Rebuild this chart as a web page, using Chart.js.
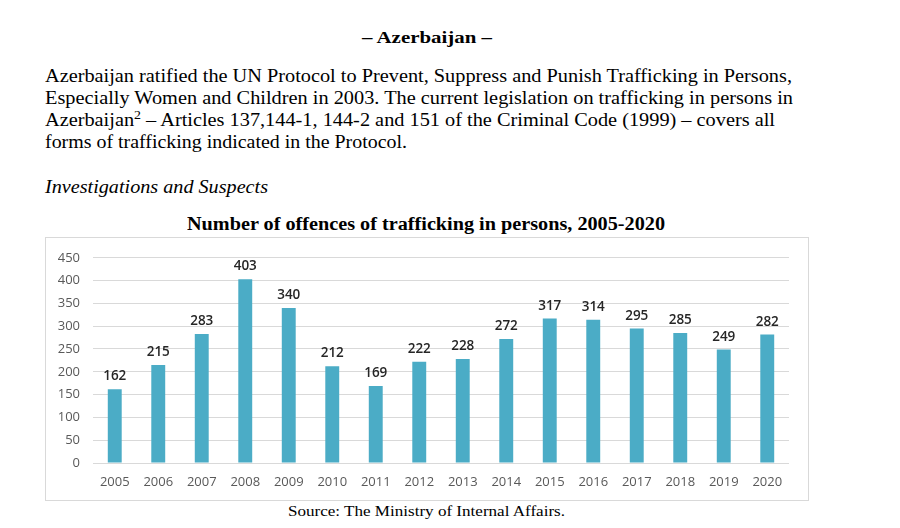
<!DOCTYPE html>
<html>
<head>
<meta charset="utf-8">
<script src="https://cdn.jsdelivr.net/npm/chart.js@4/dist/chart.umd.min.js"></script>
<style>
  html, body { margin:0; padding:0; background:#fff; }
  body { width:900px; height:528px; position:relative; overflow:hidden; font-family:"Liberation Serif","Times New Roman",serif; color:#000; }
  .t { position:absolute; white-space:nowrap; transform-origin:0 0; }
  #box { position:absolute; left:45px; top:237px; width:764px; height:264px; box-sizing:border-box; border:1px solid #d9d9d9; }
  #wrap { position:absolute; left:45px; top:237px; width:763px; height:263px; }
</style>
</head>
<body>
<div class="t" data-x0="362" data-x1="492" style="top:28px;font-size:17px;font-weight:bold;">– Azerbaijan –</div>
<div class="t" data-x0="45" data-x1="792" style="top:65px;font-size:19px;">Azerbaijan ratified the UN Protocol to Prevent, Suppress and Punish Trafficking in Persons,</div>
<div class="t" data-x0="45" data-x1="793" style="top:87px;font-size:19px;">Especially Women and Children in 2003. The current legislation on trafficking in persons in</div>
<div class="t" data-x0="45" data-x1="775" style="top:109px;font-size:19px;">Azerbaijan<sup style="font-size:13px;line-height:0;">2</sup> – Articles 137,144-1, 144-2 and 151 of the Criminal Code (1999) – covers all</div>
<div class="t" data-x0="45" data-x1="407" style="top:131px;font-size:19px;">forms of trafficking indicated in the Protocol.</div>
<div class="t" data-x0="45" data-x1="268" style="top:176px;font-size:19px;font-style:italic;">Investigations and Suspects</div>
<div class="t" data-x0="187" data-x1="665" style="top:214px;font-size:18px;font-weight:bold;">Number of offences of trafficking in persons, 2005-2020</div>
<div class="t" data-x0="288" data-x1="565" style="top:502px;font-size:15px;">Source: The Ministry of Internal Affairs.</div>

<div id="box"></div>
<div id="wrap"><canvas id="c" width="763" height="263"></canvas></div>

<script>
const years = ["2005","2006","2007","2008","2009","2010","2011","2012","2013","2014","2015","2016","2017","2018","2019","2020"];
const offences = [162,215,283,403,340,212,169,222,228,272,317,314,295,285,249,282];
const yTicks = [0,50,100,150,200,250,300,350,400,450];

// fit text lines to measured widths
document.querySelectorAll('.t').forEach(el => {
  const x0 = +el.dataset.x0, x1 = +el.dataset.x1;
  el.style.left = x0 + 'px';
  el.style.lineHeight = '1.2';
  const w = el.getBoundingClientRect().width;
  el.style.transform = 'scaleX(' + ((x1 - x0) / w) + ')';
});

const labelPlugin = {
  id: 'valueLabels',
  afterDatasetsDraw(chart) {
    const ctx = chart.ctx;
    const meta = chart.getDatasetMeta(0);
    ctx.save();
    ctx.font = '600 13.5px "Open Sans", sans-serif';
    ctx.fillStyle = '#262626';
    ctx.textAlign = 'center';
    ctx.textBaseline = 'bottom';
    meta.data.forEach((bar, i) => {
      ctx.fillText(String(chart.data.datasets[0].data[i]), bar.x, bar.y - 6);
    });
    ctx.restore();
  }
};

new Chart(document.getElementById('c'), {
  type: 'bar',
  data: {
    labels: years,
    datasets: [{
      data: offences,
      backgroundColor: '#4BACC6',
      borderWidth: 0,
      categoryPercentage: 0.8,
      barPercentage: 0.4
    }]
  },
  options: {
    responsive: false,
    animation: false,
    devicePixelRatio: 1,
    layout: { padding: { top: 12, right: 19, left: 0, bottom: 0 } },
    plugins: { legend: { display: false }, tooltip: { enabled: false }, title: { display: false } },
    scales: {
      y: {
        min: 0, max: 450,
        afterBuildTicks(s) { s.ticks = yTicks.map(v => ({ value: v })); },
        afterFit(s) { s.width = 48; },
        ticks: { color: '#595959', font: { family: '"Open Sans", sans-serif', size: 13 }, padding: 13 },
        grid: { color: '#d9d9d9', lineWidth: 1, drawTicks: false },
        border: { display: false }
      },
      x: {
        afterFit(s) { s.height = 37; },
        ticks: { color: '#595959', font: { family: '"Open Sans", sans-serif', size: 13 }, padding: 11, maxRotation: 0, autoSkip: false },
        grid: { display: false, drawTicks: false },
        border: { display: false }
      }
    }
  },
  plugins: [labelPlugin]
});
</script>
</body>
</html>
